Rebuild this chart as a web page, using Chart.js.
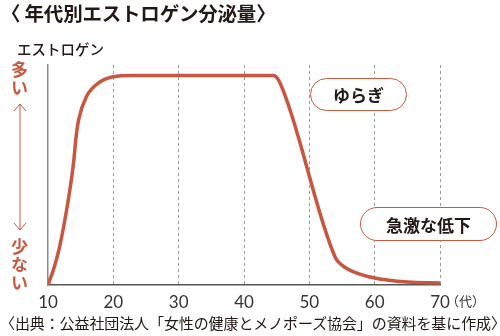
<!DOCTYPE html>
<html>
<head>
<meta charset="utf-8">
<script src="https://cdn.jsdelivr.net/npm/chart.js@4"></script>
<style>
  body { margin: 0; background: #fff; }
  #wrap { position: relative; width: 500px; height: 336px; overflow: hidden; font-family: "Noto Sans CJK JP", sans-serif; }
  #chart { position: absolute; left: 0; top: 0; }
  .txt { position: absolute; white-space: nowrap; line-height: 1; }
  .title { left: 1px; top: 3px; font-size: 19.5px; font-weight: 700; color: #231815; letter-spacing: -0.2px; }
  .ylab { left: 17px; top: 42px; font-size: 14.5px; font-weight: 500; color: #231815; }
  .vert { writing-mode: vertical-rl; color: #c8573f; font-size: 17px; font-weight: 700; left: 11px; letter-spacing: 1px; }
  .pill { border: 1.5px solid #c8573f; border-radius: 17px; text-align: center; font-size: 17px; font-weight: 700; color: #231815; box-sizing: border-box; display: flex; align-items: center; justify-content: center; background: #fff; }
  .foot { left: 0px; top: 315px; font-size: 15px; color: #231815; letter-spacing: -0.1px; }
  .unit { left: 446px; top: 294px; font-size: 13px; color: #333; }
</style>
</head>
<body>
<div id="wrap">
  <canvas id="chart" width="500" height="336"></canvas>
  <div class="txt title">〈 年代別エストロゲン分泌量〉</div>
  <div class="txt ylab">エストロゲン</div>
  <div class="txt vert" style="top:61px">多い</div>
  <div class="txt vert" style="top:238px">少ない</div>
  <div class="txt pill" style="left:310px;top:78px;width:97px;height:33px">ゆらぎ</div>
  <div class="txt pill" style="left:360px;top:207px;width:137px;height:34px">急激な低下</div>
  <div class="txt unit">（代）</div>
  <div class="txt foot">〈出典：公益社団法人「女性の健康とメノポーズ協会」の資料を基に作成〉</div>
</div>
<script>
// age (代) and estrogen level
const ages = [10, 11, 11.8, 13.1, 13.9, 14.3, 14.7, 15.9, 18, 20, 23, 44.5, 45.5, 54, 55, 57, 60, 65, 70];
const levels = [0, 9, 18.6, 40.6, 58, 70.6, 79, 90, 97, 99.4, 100, 100, 96.5, 13, 9.5, 6, 3.3, 1.4, 1];
const xTicks = [10, 20, 30, 40, 50, 60, 70];

const red = "#c8573f";

// up/down arrow on the left side
const arrowPlugin = {
  id: "arrow",
  afterDraw(chart) {
    const ctx = chart.ctx;
    const x = 20, top = 104, bottom = 230;
    ctx.save();
    ctx.strokeStyle = red;
    ctx.lineWidth = 1;
    ctx.beginPath();
    ctx.moveTo(x, top);
    ctx.lineTo(x, bottom);
    ctx.moveTo(x - 6, top + 7);
    ctx.lineTo(x, top);
    ctx.lineTo(x + 6, top + 7);
    ctx.moveTo(x - 6, bottom - 7);
    ctx.lineTo(x, bottom);
    ctx.lineTo(x + 6, bottom - 7);
    ctx.stroke();
    ctx.restore();
  },
};

new Chart(document.getElementById("chart"), {
  type: "line",
  data: {
    datasets: [
      {
        data: ages.map((a, i) => ({ x: a, y: levels[i] })),
        borderColor: red,
        borderWidth: 3.5,
        pointRadius: 0,
        cubicInterpolationMode: "monotone",
        fill: false,
      },
    ],
  },
  options: {
    responsive: false,
    animation: false,
    layout: { padding: { top: 65, right: 60, left: 0, bottom: 0 } },
    plugins: { legend: { display: false }, tooltip: { enabled: false } },
    scales: {
      x: {
        type: "linear",
        min: 10,
        max: 70,
        afterBuildTicks: (scale) => {
          scale.ticks = xTicks.map((v) => ({ value: v }));
        },
        afterFit: (scale) => {
          scale.height = 51;
        },
        ticks: {
          padding: 7,
          color: "#333",
          font: { family: "Lato", size: 17 },
        },
        grid: {
          color: (c) => (c.tick && c.tick.value === 10 ? "rgba(0,0,0,0)" : "#9a9a9a"),
          lineWidth: 1,
          drawTicks: false,
        },
        border: { display: true, color: "#555", width: 1.5, dash: [3, 3] },
      },
      y: {
        min: 0,
        max: 105,
        afterFit: (scale) => {
          scale.width = 48;
        },
        ticks: { display: false },
        grid: { display: false },
        border: { display: true, color: "#8a8a8a", width: 1.5 },
      },
    },
  },
  plugins: [arrowPlugin],
});
</script>
</body>
</html>
